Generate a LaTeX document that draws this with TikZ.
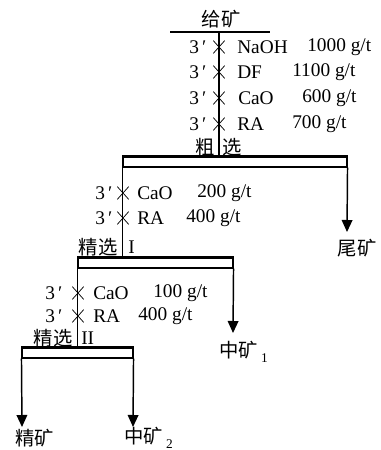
\documentclass[tikz,border=0pt]{standalone}
\usepackage{fontspec}
\setmainfont{Liberation Serif}
\newfontfamily\cjk{Noto Sans CJK SC}
\usetikzlibrary{arrows.meta,shapes.misc}
\begin{document}
\begin{tikzpicture}[x=0.75pt,y=-0.75pt,
  txt/.style={inner sep=0pt,font=\fontsize{14.5}{16}\selectfont,anchor=west},
  crs/.style={cross out,draw,line width=0.55pt,inner sep=0pt,minimum width=8pt,minimum height=9pt},
  cn/.style={inner sep=0pt,font=\cjk\fontsize{14.5}{16}\selectfont},
  flow/.style={line width=1.1pt},
  arr/.style={flow,-{Triangle[width=8pt,length=9pt]}},
  boxn/.style={draw,line width=0.8pt,inner sep=0pt,minimum height=7.5pt},
  topline/.style={line width=2.2pt}]
\useasboundingbox (0,0) rectangle (381,450);
% feed
\node[cn] (feed) at (221,19) {给矿};
\coordinate (fl) at (170,32);
\coordinate (fr) at (270,32);
\coordinate (fj) at (219,32);
\draw[flow] (fl) -- (fr);
% rougher box
\node[boxn,minimum width=168pt] (rough) at (235,162) {};
\draw[topline] (rough.north west) -- (rough.north east);
\draw[flow] (fj) -- (fj |- rough.north);
% rougher reagents
\node[txt] (a1p) at (189,47) {3\,′};
\node[crs] (a1x) at (219,47) {};
\node[txt] (a1n) at (237,47) {NaOH};
\node[txt] (a1v) at (307,47) {1000 g/t};
\node[txt] (a2p) at (189,72) {3\,′};
\node[crs] (a2x) at (219,72) {};
\node[txt] (a2n) at (237,72) {DF};
\node[txt] (a2v) at (292,72) {1100 g/t};
\node[txt] (a3p) at (189,98) {3\,′};
\node[crs] (a3x) at (219,98) {};
\node[txt] (a3n) at (238,98) {CaO};
\node[txt] (a3v) at (302,98) {600 g/t};
\node[txt] (a4p) at (189,124) {3\,′};
\node[crs] (a4x) at (219,124) {};
\node[txt] (a4n) at (237,124) {RA};
\node[txt] (a4v) at (292,124) {700 g/t};
\node[cn] (cu) at (205,147) {粗};
\node[cn] (xuan) at (232,147) {选};
% cleaner I box
\node[boxn,minimum width=116.25pt] (clean1) at (155.5,263) {};
\draw[topline] (clean1.north west) -- (clean1.north east);
\draw[flow] (rough.south west) -- (rough.south west |- clean1.north);
\coordinate (tailend) at (347,232);
\draw[arr] (rough.south east) -- (tailend);
\node[cn] (tail) at (357,248) {尾矿};
% cleaner I reagents
\node[txt] (b1p) at (95,193) {3\,′};
\node[crs] (b1x) at (123,193) {};
\node[txt] (b1n) at (137,193) {CaO};
\node[txt] (b1v) at (197,193) {200 g/t};
\node[txt] (b2p) at (95,218) {3\,′};
\node[crs] (b2x) at (123,218) {};
\node[txt] (b2n) at (137,218) {RA};
\node[txt] (b2v) at (186,218) {400 g/t};
\node[cn] (jx1) at (98,247) {精选};
\node[txt] (jx1n) at (128,247) {I};
% cleaner II box
\node[boxn,minimum width=83.25pt] (clean2) at (77.5,353) {};
\draw[topline] (clean2.north west) -- (clean2.north east);
\draw[flow] (clean1.south west) -- (clean1.south west |- clean2.north);
\coordinate (mid1end) at (233,333);
\draw[arr] (clean1.south east) -- (mid1end);
\node[txt] (mid1) at (219,352) {{\cjk\fontsize{14.5}{16}\selectfont 中矿}\,\raisebox{-4pt}{\fontsize{10}{12}\selectfont 1}};
% cleaner II reagents
\node[txt] (c1p) at (45,293) {3\,′};
\node[crs] (c1x) at (78,293) {};
\node[txt] (c1n) at (93,293) {CaO};
\node[txt] (c1v) at (153,293) {100 g/t};
\node[txt] (c2p) at (45,316) {3\,′};
\node[crs] (c2x) at (78,316) {};
\node[txt] (c2n) at (93,316) {RA};
\node[txt] (c2v) at (138,316) {400 g/t};
\node[cn] (jx2) at (53,338) {精选};
\node[txt] (jx2n) at (81,338) {II};
% products
\coordinate (concend) at (22,427);
\coordinate (mid2end) at (133,427);
\draw[arr] (clean2.south west) -- (concend);
\draw[arr] (clean2.south east) -- (mid2end);
\node[cn] (conc) at (35,438) {精矿};
\node[txt] (mid2) at (124,438) {{\cjk\fontsize{14.5}{16}\selectfont 中矿}\,\raisebox{-4pt}{\fontsize{10}{12}\selectfont 2}};
\end{tikzpicture}
\end{document}
